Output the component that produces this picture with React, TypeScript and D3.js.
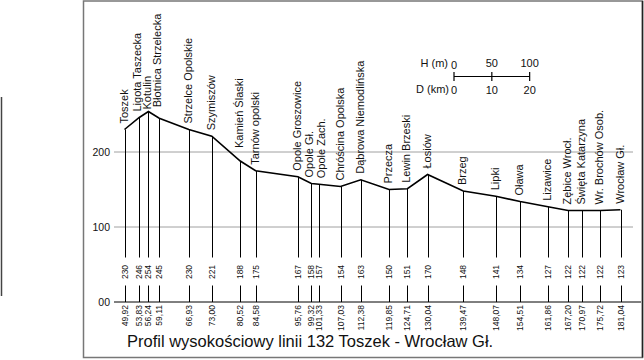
import React from "react";
import * as d3 from "d3";

const stationNames = [
  "Toszek", "Ligota Taszecka", "Kotulin", "Błotnica Strzelecka", "Strzelce Opolskie",
  "Szymiszów", "Kamień Ślaski", "Tarnów opolski", "Opole Groszowice", "Opole Gł.",
  "Opole Zach.", "Chróścina Opolska", "Dąbrowa Niemodlińska", "Przecza", "Lewin Brzeski",
  "Łosiów", "Brzeg", "Lipki", "Oława", "Lizawice", "Zębice Wrocł.", "Święta Katarzyna",
  "Wr. Brochów Osob.", "Wrocław Gł.",
];
const stationKm = [
  49.92, 53.83, 56.24, 59.11, 66.93, 73.0, 80.52, 84.58, 95.76, 99.32, 101.33, 107.03,
  112.38, 119.85, 124.71, 130.04, 139.47, 148.07, 154.51, 161.86, 167.2, 170.97, 175.72, 181.04,
];
const stationElev = [
  230, 246, 254, 245, 230, 221, 188, 175, 167, 158, 157, 154, 163, 150, 151, 170, 148, 141,
  134, 127, 122, 122, 122, 123,
];
const yTicks = [0, 100, 200];
const yTickLabels = ["00", "100", "200"];
const legendH = [0, 50, 100];
const legendD = [0, 10, 20];
const title = "Profil wysokościowy linii 132 Toszek - Wrocław Gł.";

// layout-only nudges for crowded labels (px)
const labelNudge: Record<string, [number, number]> = {
  "Ligota Taszecka": [-1, 0],
  Kotulin: [-0.5, 4],
  "Błotnica Strzelecka": [-1, -5],
  "Kamień Ślaski": [0, -7],
  "Opole Gł.": [-1, 0],
  "Opole Zach.": [2.5, 0],
};

const FONT = "'Liberation Sans', Arial, Helvetica, sans-serif";

export default function App() {
  const W = 644, H = 360;
  const x = d3.scaleLinear().domain([49.92, 181.04]).range([124.5, 620.5]);
  const y = d3.scaleLinear().domain([0, 200]).range([302, 152]);
  const fmtKm = (v: number) => d3.format(".2f")(v).replace(".", ",");

  const pts = stationKm.map((k, i) => [x(k), y(stationElev[i])] as [number, number]);
  const line = d3.line()(pts) || "";

  const gapTop = 257.5, gapBot = 285.5, elevLabelY = 272;
  const barX0 = 454;
  const barLen = x(49.92 + 20) - x(49.92);
  const barY = 76.5;

  return (
    <svg width={W} height={H} style={{ position: "absolute", left: 0, top: 0, background: "#fff" }}
      fontFamily={FONT}>
      {/* stray left line */}
      <line x1={1.5} x2={1.5} y1={97} y2={296} stroke="#444" strokeWidth={1.5} />
      {/* frame */}
      <rect x={83.5} y={1} width={559} height={356.5} fill="none" stroke="#777" strokeWidth={1.5} />
      <line x1={642.5} x2={642.5} y1={1} y2={357.5} stroke="#222" strokeWidth={1.5} />

      {/* grid */}
      {yTicks.map((t, i) => (
        <g key={"g" + t}>
          <line x1={114} x2={t === 0 ? 641 : 633} y1={y(t)} y2={y(t)}
            stroke={t === 0 ? "#000" : "#a0a0a0"} strokeWidth={1} />
          <text x={110} y={y(t)} dy="0.36em" textAnchor="end" fontSize={10.5} fill="#111">
            {yTickLabels[i]}
          </text>
        </g>
      ))}

      {/* station vertical lines */}
      {stationKm.map((k, i) => {
        const xx = Math.round(x(k)) + 0.5;
        const yy = y(stationElev[i]);
        const [ndx, ndy] = labelNudge[stationNames[i]] || [0, 0];
        return (
          <g key={"v" + i}>
            <line x1={xx} x2={xx} y1={yy} y2={gapTop} stroke="#000" strokeWidth={1} />
            <line x1={xx} x2={xx} y1={gapBot} y2={302} stroke="#000" strokeWidth={1} />
            <text transform={`translate(${xx},${elevLabelY}) rotate(-90)`} textAnchor="middle"
              dy="0.35em" fontSize={8.5} fill="#111">
              {stationElev[i]}
            </text>
            <text transform={`translate(${xx},${305}) rotate(-90)`} textAnchor="end"
              dy="0.35em" fontSize={8.5} fill="#111">
              {fmtKm(k)}
            </text>
            <text transform={`translate(${xx - 1 + ndx},${yy - 6 + ndy}) rotate(-90)`}
              textAnchor="start" dy="0.35em" fontSize={11} fill="#111">
              {stationNames[i]}
            </text>
          </g>
        );
      })}

      {/* profile */}
      <path d={line} fill="none" stroke="#000" strokeWidth={1.6} strokeLinejoin="miter" />

      {/* scale legend */}
      <g>
        <text x={448} y={67} textAnchor="end" fontSize={11} fill="#111">H (m)</text>
        <text x={449} y={93} textAnchor="end" fontSize={11} fill="#111">D (km)</text>
        <line x1={barX0} x2={barX0 + barLen} y1={barY} y2={barY} stroke="#000" strokeWidth={1.2} />
        {legendH.map((h, i) => {
          const xx = barX0 + (h / 100) * barLen;
          return (
            <g key={"lh" + i}>
              <line x1={xx} x2={xx} y1={72} y2={81} stroke="#000" strokeWidth={1.2} />
              <text x={xx} y={i === 0 ? 68.5 : 67} textAnchor="middle" fontSize={11} fill="#111">{h}</text>
            </g>
          );
        })}
        {legendD.map((dd, i) => (
          <text key={"ld" + i} x={barX0 + (dd / 20) * barLen} y={93.5} textAnchor="middle"
            fontSize={11} fill="#111">{dd}</text>
        ))}
      </g>

      {/* title */}
      <text x={127} y={347} fontSize={16.5} fill="#111">{title}</text>
    </svg>
  );
}
